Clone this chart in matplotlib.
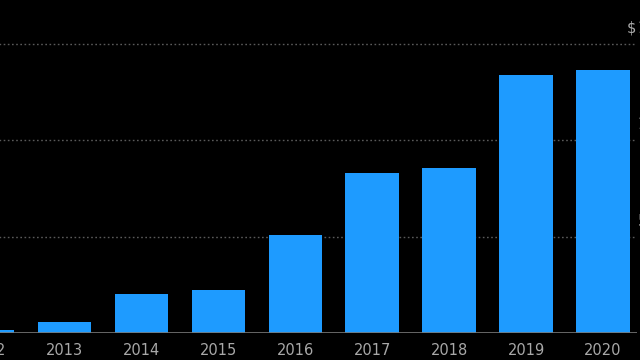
import matplotlib
matplotlib.use("Agg")
import matplotlib.pyplot as plt
from matplotlib import font_manager
import matplotlib.transforms as mtransforms

names = {f.name for f in font_manager.fontManager.ttflist}
family = ['Liberation Sans Narrow', 'DejaVu Sans'] if 'Liberation Sans Narrow' in names else ['DejaVu Sans']
plt.rcParams['font.family'] = family

years = [2012, 2013, 2014, 2015, 2016, 2017, 2018, 2019, 2020]
values = [0.13, 0.57, 2.02, 2.25, 5.09, 8.29, 8.55, 13.39, 13.65]
tick_labels = [str(y) for y in years]
grid_values = [5, 10, 15]
grid_labels = ['5', '10', '15B']

W, H = 640, 360
fig = plt.figure(figsize=(6.4, 3.6), dpi=100, facecolor='black')
ax = fig.add_axes([-60 / W, 27 / H, 697 / W, 333 / H], facecolor='black')

ax.bar(years, values, width=0.695, color='#1e9bff', zorder=3)

ax.set_xlim(2011.3817, 2020.442)
ax.set_ylim(0, 17.28)

for v in grid_values:
    ax.axhline(v, color='#5a5a5a', lw=1.0, ls=(0, (1.2, 1.8)), zorder=1)
ax.axhline(0, color='#777777', lw=1.2, zorder=4)

ax.set_xticks(years)
ax.set_xticklabels(tick_labels)
ax.tick_params(axis='x', length=0, pad=7, labelsize=10.5, labelcolor='#a8a8a8')
ax.set_yticks([])
for s in ax.spines.values():
    s.set_visible(False)

trans = mtransforms.blended_transform_factory(ax.transAxes, ax.transData)
offset = mtransforms.offset_copy(trans, fig=fig, x=0.5, y=8, units='dots')
for v, lab in zip(grid_values, grid_labels):
    ax.text(1.0, v, lab, transform=offset, ha='left', va='bottom',
            fontsize=10.5, color='#a8a8a8', clip_on=False)
offset2 = mtransforms.offset_copy(trans, fig=fig, x=-0.5, y=8, units='dots')
ax.text(1.0, grid_values[-1], '$', transform=offset2, ha='right', va='bottom',
        fontsize=10.5, color='#a8a8a8', clip_on=False)

fig.savefig('out.png', dpi=100, facecolor='black')
